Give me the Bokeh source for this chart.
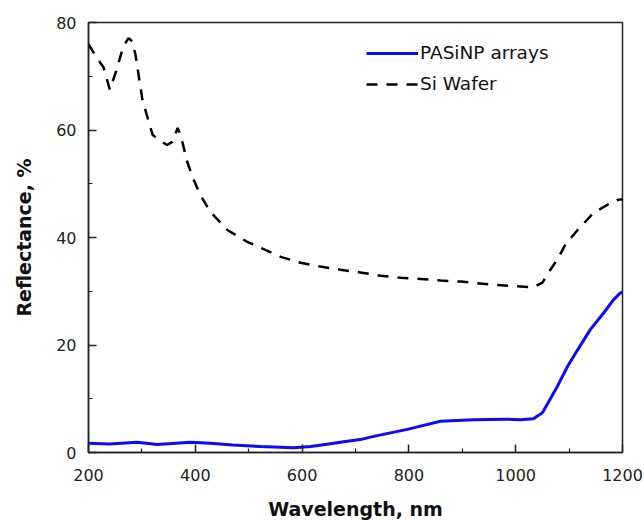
from bokeh.plotting import figure
from bokeh.models import Range1d, FixedTicker
from bokeh.embed import file_html
from bokeh.resources import INLINE

# Si wafer reflectance (dashed)
wl_si = [200, 204, 215, 228, 240, 252, 265, 275, 282, 288, 301, 320, 331, 347, 357,
         367, 374, 385, 398, 410, 428, 460, 497, 522, 560, 597, 634, 672, 709, 747,
         784, 822, 859, 897, 958, 1009, 1033, 1050, 1065, 1078, 1093, 1116, 1146, 1172, 1191, 1200]
r_si = [76.0, 75.3, 73.5, 71.7, 67.5, 71.0, 75.5, 77.1, 76.5, 74.0, 65.6, 59.1, 58.2, 57.2, 57.8,
        60.4, 58.5, 54.0, 50.5, 47.8, 44.8, 41.4, 39.2, 38.1, 36.4, 35.3, 34.6, 34.0, 33.5, 32.9,
        32.5, 32.3, 32.0, 31.8, 31.2, 30.9, 30.7, 31.6, 34.0, 35.9, 38.7, 41.4, 44.6, 46.1, 47.0, 47.1]

# PASiNP arrays reflectance (solid blue)
wl_np = [200, 240, 291, 329, 391, 428, 470, 522, 584, 616, 650, 678, 709, 734, 797, 859,
         921, 984, 1009, 1033, 1050, 1061, 1078, 1097, 1116, 1140, 1165, 1183, 1196, 1200]
r_np = [1.7, 1.6, 1.9, 1.5, 1.9, 1.7, 1.4, 1.1, 0.9, 1.1, 1.6, 2.0, 2.4, 3.0, 4.3, 5.8,
        6.1, 6.2, 6.1, 6.3, 7.4, 9.3, 12.3, 16.0, 19.1, 22.9, 26.0, 28.4, 29.7, 29.8]

x_ticks = [200, 400, 600, 800, 1000, 1200]
y_ticks = [0, 20, 40, 60, 80]

p = figure(width=644, height=522, output_backend="svg", toolbar_location=None,
           x_range=Range1d(200, 1200), y_range=Range1d(0, 80),
           min_border_left=88, min_border_right=22, min_border_top=22, min_border_bottom=69)
p.xgrid.visible = False
p.ygrid.visible = False
p.outline_line_color = "#222222"
p.outline_line_width = 1.5
p.background_fill_color = "white"
p.border_fill_color = "white"

r1 = p.line(wl_np, r_np, line_color="#0a0aff", line_width=3, legend_label="PASiNP arrays")
r2 = p.line(wl_si, r_si, line_color="black", line_width=2.5, line_dash="11 9", legend_label="Si Wafer")

for ax in (p.xaxis[0], p.yaxis[0]):
    ax.axis_line_color = "#222222"
    ax.axis_line_width = 1.5
    ax.major_tick_in = 8
    ax.major_tick_out = 0
    ax.minor_tick_in = 4
    ax.minor_tick_out = 0
    ax.major_tick_line_color = "#222222"
    ax.minor_tick_line_color = "#222222"
    ax.major_tick_line_width = 1.5
    ax.minor_tick_line_width = 1.2
    ax.major_label_text_font = "DejaVu Sans"
    ax.major_label_text_font_size = "16px"
    ax.major_label_text_color = "#222222"
    ax.axis_label_text_font = "DejaVu Sans"
    ax.axis_label_text_font_size = "19px"
    ax.axis_label_text_font_style = "bold"
    ax.axis_label_text_color = "#111111"

p.xaxis[0].ticker = FixedTicker(ticks=x_ticks, minor_ticks=[300, 500, 700, 900, 1100])
p.yaxis[0].ticker = FixedTicker(ticks=y_ticks, minor_ticks=[10, 30, 50, 70])
p.xaxis[0].axis_label = "Wavelength, nm"
p.yaxis[0].axis_label = "Reflectance, %"
p.xaxis[0].major_label_standoff = 16
p.yaxis[0].major_label_standoff = 12
p.xaxis[0].axis_label_standoff = 14
p.yaxis[0].axis_label_standoff = 18

lg = p.legend[0]
lg.border_line_color = None
lg.background_fill_alpha = 0
lg.padding = 0
lg.margin = 0
lg.spacing = 10
lg.glyph_width = 52
lg.glyph_height = 20
lg.label_height = 20
lg.label_standoff = 2
lg.label_text_font = "DejaVu Sans"
lg.label_text_font_size = "18.5px"
lg.label_text_color = "#111111"
lg.location = (278, 431 - 23 - 50)

open("out.html", "w").write(file_html(p, INLINE))
